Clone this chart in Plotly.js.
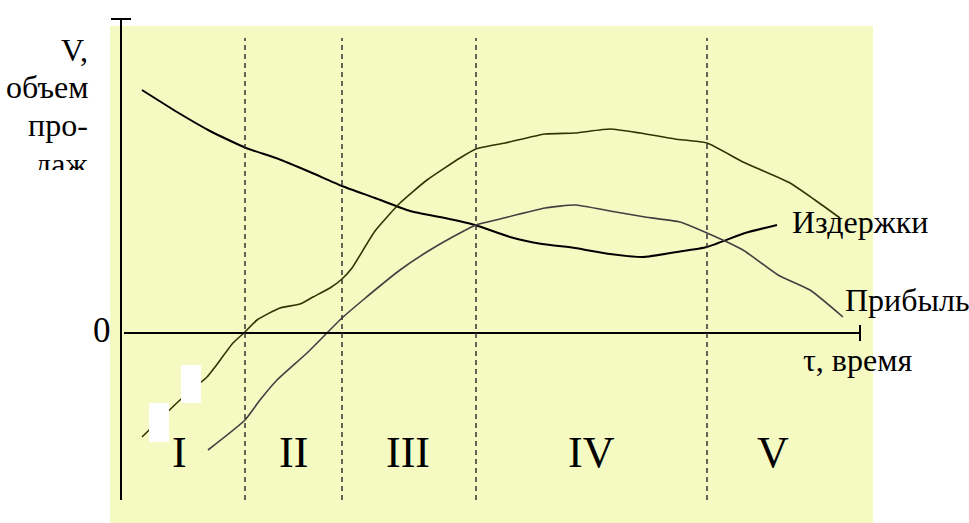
<!DOCTYPE html>
<html>
<head>
<meta charset="utf-8">
<script src="https://cdn.plot.ly/plotly-3.0.1.min.js"></script>
<style>
  html, body { margin: 0; padding: 0; background: #fff; }
  #plot { width: 969px; height: 523px; }
</style>
</head>
<body>
<div id="plot"></div>
<script>
// время (x) и величина (y), 0 по оси y - линия нуля
const costT   = [2.1, 5.6, 8.9, 12.5, 15.5, 18.9, 22.1, 25.4, 28.9, 32.4, 35.4, 38.9, 42.1, 45.4, 48.9, 52.2, 55.6, 58.6, 62.4, 65.6];
const costV   = [24.3, 22.1, 20.2, 18.5, 17.5, 16.1, 14.7, 13.5, 12.2, 11.5, 10.8, 9.6, 8.9, 8.5, 7.9, 7.6, 8.1, 8.6, 10.0, 10.8];

const salesT  = [2.1, 5.9, 8.6, 9.4, 11.2, 12.4, 13.6, 15.9, 17.9, 19.2, 20.9, 22.1, 23.1, 25.4, 27.9, 30.6, 33.9, 35.5, 38.4, 42.4, 45.4, 48.9, 51.9, 55.4, 58.6, 62.2, 66.9, 69.4, 71.9];
const salesV  = [-10.4, -6.7, -4.4, -3.4, -1.0, 0.1, 1.3, 2.5, 2.9, 3.6, 4.5, 5.4, 6.5, 10.2, 13.0, 15.3, 17.5, 18.4, 19.0, 19.9, 20.0, 20.4, 20.0, 19.4, 19.0, 17.1, 15.0, 13.3, 11.5];

const profitT = [8.7, 12.4, 13.9, 15.6, 18.6, 22.1, 24.2, 27.9, 30.9, 33.9, 35.5, 37.9, 42.4, 45.4, 48.9, 52.4, 55.9, 58.6, 62.2, 65.7, 68.9, 72.2];
const profitV = [-11.7, -8.7, -6.7, -4.7, -2.0, 1.5, 3.3, 6.3, 8.3, 10.0, 10.8, 11.4, 12.5, 12.8, 12.2, 11.6, 11.1, 10.0, 8.3, 5.8, 4.3, 1.6];

// границы стадий жизненного цикла
const stageBounds = [12.4, 22.1, 35.5, 58.6];
const stageNames  = ['I', 'II', 'III', 'IV', 'V'];
const stageMid    = [5.8, 17.2, 28.7, 47.0, 65.2];

const serif = 'Liberation Serif, Times New Roman, serif';

const traces = [
    { x: costT, y: costV, mode: 'lines', line: { color: '#000000', width: 2, shape: 'spline', smoothing: 0.5 } },
    { x: salesT, y: salesV, mode: 'lines', line: { color: '#333300', width: 1.6, shape: 'spline', smoothing: 0.5 } },
    { x: profitT, y: profitV, mode: 'lines', line: { color: '#404040', width: 1.6, shape: 'spline', smoothing: 0.5 } },
];

const shapes = [
    { type: 'rect', x0: -1.1, x1: 75.2, y0: -19.5, y1: 30.7, fillcolor: '#F5FAC3', line: { width: 0 }, layer: 'below' },
    { type: 'line', x0: 0, x1: 0, y0: -16.7, y1: 31.4, line: { color: '#000', width: 2 } },
    { type: 'line', x0: -1.0, x1: 1.0, y0: 31.4, y1: 31.4, line: { color: '#000', width: 2 } },
    { type: 'line', x0: 0.3, x1: 73.9, y0: 0, y1: 0, line: { color: '#000', width: 2 } },
    { type: 'line', x0: 73.9, x1: 73.9, y0: -0.8, y1: 0.8, line: { color: '#000', width: 2 } },
];
stageBounds.forEach(b => {
    shapes.push({ type: 'line', x0: b, x1: b, y0: -16.7, y1: 29.5, line: { color: '#333', width: 1.5, dash: '5px,4px' } });
});
// белые прямоугольники поверх кривой
shapes.push({ type: 'rect', x0: 2.8, x1: 4.8, y0: -10.9, y1: -7.0, fillcolor: '#fff', line: { width: 0 }, layer: 'above' });
shapes.push({ type: 'rect', x0: 6.0, x1: 8.0, y0: -7.0, y1: -3.2, fillcolor: '#fff', line: { width: 0 }, layer: 'above' });

const txt = (text, x, y, size, xanchor, extra) => Object.assign({
    text: text, x: x, y: y, xref: 'x', yref: 'y', showarrow: false,
    xanchor: xanchor || 'center', yanchor: 'middle',
    font: { family: serif, size: size, color: '#000' }
}, extra || {});

const annotations = [
    txt('V,', -3.1, 28.3, 32, 'right'),
    txt('объем', -3.1, 24.6, 32, 'right'),
    txt('про-', -3.1, 20.8, 32, 'right'),
    txt('даж', -3.1, 18.9, 32, 'right', { yanchor: 'top', valign: 'top', height: 24 }),
    txt('0', -1.9, 0.3, 35, 'center'),
    txt('Издержки', 66.9, 11.1, 32, 'left'),
    txt('Прибыль', 72.2, 3.3, 32, 'left'),
    txt('τ, время', 68.0, -2.7, 32, 'left'),
];
stageNames.forEach((n, i) => annotations.push(txt(n, stageMid[i], -11.9, 44, 'center')));

Plotly.newPlot('plot', traces, {
    width: 969, height: 523,
    margin: { l: 0, r: 0, t: 0, b: 0 },
    paper_bgcolor: '#fff', plot_bgcolor: '#fff',
    showlegend: false,
    xaxis: { range: [-12.1, 84.8], visible: false, fixedrange: true },
    yaxis: { range: [-19, 33.3], visible: false, fixedrange: true },
    shapes: shapes,
    annotations: annotations,
}, { staticPlot: true });
</script>
</body>
</html>
